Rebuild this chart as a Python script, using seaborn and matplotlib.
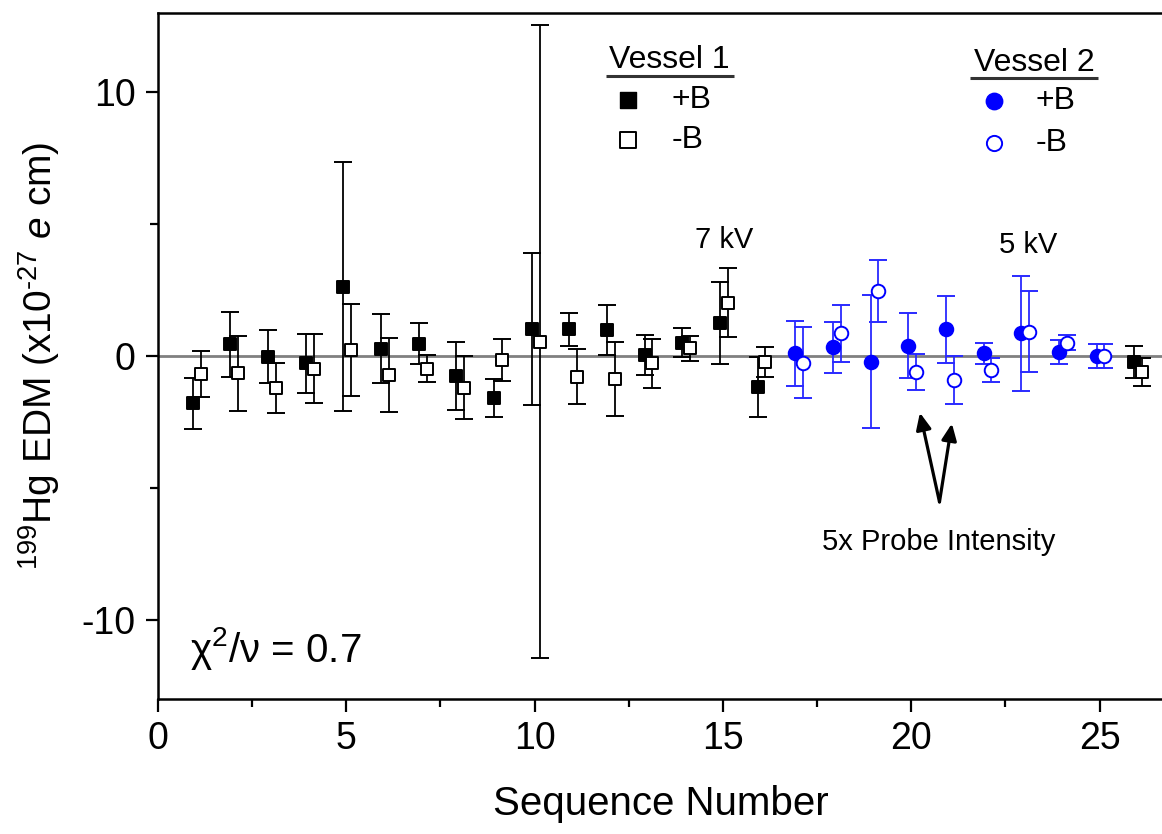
import numpy as np
import pandas as pd
import matplotlib
matplotlib.use("Agg")
import matplotlib.pyplot as plt
import seaborn as sns
from matplotlib.ticker import MultipleLocator

sns.set_style("ticks", rc={"axes.edgecolor": "black", "text.color": "black",
                           "axes.labelcolor": "black", "xtick.color": "black",
                           "ytick.color": "black"})
plt.rcParams['font.family'] = ['Liberation Sans', 'DejaVu Sans']
plt.rcParams['axes.unicode_minus'] = False
plt.rcParams['mathtext.fontset'] = 'custom'
plt.rcParams['mathtext.rm'] = 'Liberation Sans'
plt.rcParams['mathtext.it'] = 'Liberation Sans:italic'

# ---------------- data ----------------
seq = list(range(1, 27))
vessel = ["V1"] * 16 + ["V2"] * 9 + ["V1"]
plus_edm = [-1.80, 0.44, -0.03, -0.28, 2.63, 0.28, 0.46, -0.76, -1.60, 1.02,
            1.01, 0.99, 0.04, 0.51, 1.26, -1.19, 0.10, 0.33, -0.21, 0.39,
            1.01, 0.10, 0.86, 0.16, 0.00, -0.24]
plus_err = [0.95, 1.24, 1.01, 1.13, 4.71, 1.30, 0.78, 1.28, 0.72, 2.87,
            0.62, 0.95, 0.75, 0.54, 1.55, 1.14, 1.22, 0.96, 2.52, 1.24,
            1.27, 0.41, 2.17, 0.46, 0.44, 0.61]
minus_edm = [-0.68, -0.66, -1.20, -0.48, 0.23, -0.73, -0.48, -1.20, -0.15, 0.54,
             -0.78, -0.87, -0.28, 0.29, 2.02, -0.21, -0.25, 0.86, 2.47, -0.60,
             -0.91, -0.53, 0.92, 0.51, 0.00, -0.60]
minus_err = [0.88, 1.42, 0.95, 1.31, 1.74, 1.40, 0.50, 1.19, 0.78, 12.0,
             1.05, 1.40, 0.94, 0.47, 1.30, 0.57, 1.36, 1.07, 1.17, 0.67,
             0.92, 0.47, 1.53, 0.29, 0.44, 0.54]

df = pd.DataFrame({
    "seq": seq * 2,
    "vessel": vessel * 2,
    "field": ["+B"] * 26 + ["-B"] * 26,
    "edm": plus_edm + minus_edm,
    "err": plus_err + minus_err,
})
offset = {"+B": -0.08, "-B": 0.13}
df["x"] = df["seq"] + df["field"].map(offset)

colors = {"V1": "black", "V2": "#0000ff"}
ecolors = {"V1": "black", "V2": "#2a2aff"}
markers = {"V1": "s", "V2": "o"}

# ---------------- figure ----------------
fig = plt.figure(figsize=(11.62, 8.34), dpi=100)
ax = fig.add_axes([158 / 1162, 1 - 699 / 834, 1 - 158 / 1162 + 0.002, (699 - 13) / 834])

ax.axhline(0, color="#808080", lw=2.0, zorder=1)

for (v, f), g in df.groupby(["vessel", "field"]):
    ax.errorbar(g["x"], g["edm"], yerr=g["err"], fmt="none",
                ecolor=ecolors[v], elinewidth=1.3, capsize=6.5, capthick=1.4, zorder=2)
    face = colors[v] if f == "+B" else "white"
    sns.scatterplot(x=g["x"], y=g["edm"], ax=ax, marker=markers[v],
                    s=85 if v == "V1" else 95, color=face, edgecolor=colors[v],
                    linewidth=1.4, zorder=3, legend=False)

ax.set_xlim(0, 26.72)
ax.set_ylim(-13, 13)
ax.xaxis.set_major_locator(MultipleLocator(5))
ax.xaxis.set_minor_locator(MultipleLocator(2.5))
ax.yaxis.set_major_locator(MultipleLocator(10))
ax.yaxis.set_minor_locator(MultipleLocator(5))
ax.tick_params(which="major", direction="out", length=9, width=1.6, labelsize=27, pad=7)
ax.tick_params(which="minor", direction="out", length=6, width=1.6)
ax.tick_params(top=False, right=False, which="both")
for s in ["left", "bottom", "top"]:
    ax.spines[s].set_linewidth(1.8)
ax.spines["right"].set_visible(False)

ax.set_xlabel("Sequence Number", fontsize=29, labelpad=20)
ax.set_ylabel(r"$^{199}$Hg EDM (x10$^{\text{-27}}$ $\mathit{e}$ cm)", fontsize=28, labelpad=14)

# ---------------- legend-like annotations ----------------
ax.text(13.58, 11.2, "Vessel 1", ha="center", va="center", fontsize=23)
ax.plot([11.9, 15.3], [10.62, 10.62], color="#333333", lw=2.2, solid_capstyle="butt")
ax.scatter([12.49], [9.72], marker="s", s=125, color="black", zorder=3)
ax.scatter([12.49], [8.2], marker="s", s=125, facecolor="white", edgecolor="black", linewidth=1.4, zorder=3)
ax.text(13.63, 9.72, "+B", ha="left", va="center", fontsize=23)
ax.text(13.63, 8.2, "-B", ha="left", va="center", fontsize=23)

ax.text(23.26, 11.1, "Vessel 2", ha="center", va="center", fontsize=23)
ax.plot([21.55, 24.95], [10.52, 10.52], color="#333333", lw=2.2, solid_capstyle="butt")
ax.scatter([22.19], [9.65], marker="o", s=140, color="#0000ff", zorder=3)
ax.scatter([22.19], [8.07], marker="o", s=120, facecolor="white", edgecolor="#0000ff", linewidth=1.4, zorder=3)
ax.text(23.31, 9.65, "+B", ha="left", va="center", fontsize=23)
ax.text(23.31, 8.07, "-B", ha="left", va="center", fontsize=23)

ax.text(15.02, 4.4, "7 kV", ha="center", va="center", fontsize=21)
ax.text(23.1, 4.21, "5 kV", ha="center", va="center", fontsize=21)

for tip in [(20.23, -2.15), (21.08, -2.56)]:
    ax.annotate("", xy=tip, xytext=(20.75, -5.53),
                arrowprops=dict(arrowstyle="-|>,head_length=1.0,head_width=0.45",
                                color="black", lw=2.3, shrinkA=0, shrinkB=0))
ax.text(20.72, -7.05, "5x Probe Intensity", ha="center", va="center", fontsize=21)

ax.text(0.86, -11.08, r"$\mathrm{\chi}^{\mathrm{2}}/\mathrm{\nu}$ = 0.7",
        ha="left", va="center", fontsize=29)

fig.savefig("out.png", dpi=100)
